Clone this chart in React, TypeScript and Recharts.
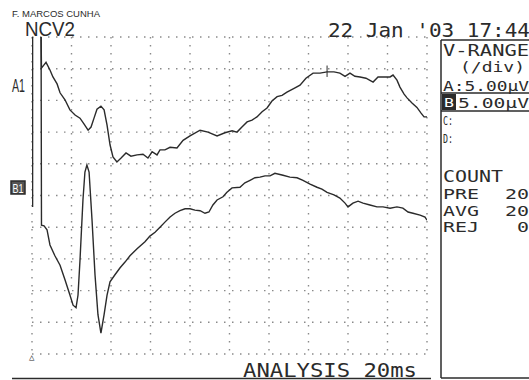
import { LineChart, Line, XAxis, YAxis, CartesianGrid, ReferenceLine } from "recharts";

// time (ms) and amplitude (µV, 5 µV/div)
const timeA = [0.46, 0.48, 0.71, 0.91, 1.06, 1.27, 1.42, 1.67, 1.92, 2.18, 2.43, 2.63, 2.84, 2.99, 3.14, 3.29, 3.49, 3.65, 3.8, 3.95, 4.1, 4.3, 4.51, 4.76, 5.01, 5.32, 5.62, 5.87, 6.08, 6.33, 6.48, 6.73, 6.99, 7.34, 7.65, 8.0, 8.51, 8.91, 9.37, 9.77, 10.13, 10.38, 10.63, 10.89, 11.14, 11.39, 11.65, 11.9, 12.15, 12.41, 12.66, 12.91, 13.27, 13.57, 13.87, 14.23, 14.58, 14.94, 15.29, 15.59, 15.85, 16.1, 16.35, 16.61, 16.91, 17.27, 17.52, 17.87, 18.13, 18.28, 18.48, 18.63, 18.84, 18.99, 19.24, 19.49, 19.7, 19.85, 20.0];
const voltA = [50, 45.1, 46.0, 44.8, 43.7, 42.6, 41.2, 40.1, 38.5, 37.7, 37.2, 36.3, 35.3, 35.8, 37.2, 38.6, 39.1, 38.5, 36.1, 33.0, 31.1, 30.3, 30.9, 31.7, 31.2, 31.4, 31.5, 30.9, 31.9, 31.4, 32.2, 32.2, 32.6, 32.5, 33.7, 34.4, 35.3, 35.0, 34.4, 34.9, 35.2, 35.0, 35.8, 36.6, 36.9, 37.4, 38.2, 38.8, 39.9, 40.6, 40.8, 41.3, 41.9, 42.4, 43.5, 44.3, 44.3, 44.5, 44.5, 44.3, 43.8, 44.3, 43.8, 43.7, 43.5, 42.9, 43.7, 43.7, 43.7, 44.0, 43.2, 42.1, 41.0, 40.4, 39.6, 38.9, 38.0, 37.4, 37.4];

const timeB = [0.46, 0.48, 0.61, 0.76, 0.91, 1.16, 1.42, 1.67, 1.92, 2.08, 2.23, 2.33, 2.43, 2.58, 2.68, 2.78, 2.89, 3.04, 3.19, 3.34, 3.49, 3.65, 3.8, 3.95, 4.2, 4.46, 4.71, 4.96, 5.32, 5.72, 5.97, 6.23, 6.48, 6.73, 6.99, 7.24, 7.49, 7.75, 8.0, 8.25, 8.51, 8.76, 8.96, 9.16, 9.37, 9.67, 9.87, 10.13, 10.53, 10.78, 11.04, 11.29, 11.54, 11.8, 12.05, 12.3, 12.71, 13.06, 13.42, 13.72, 14.08, 14.43, 14.68, 14.94, 15.29, 15.59, 15.85, 16.0, 16.25, 16.51, 16.76, 17.11, 17.47, 17.77, 18.13, 18.48, 18.78, 19.04, 19.29, 19.65, 19.9, 20.0];
const voltB = [50, 20.3, 20.2, 19.6, 17.2, 15.5, 14.0, 11.7, 9.3, 7.7, 7.3, 9.3, 14.8, 24.3, 28.7, 29.8, 28.7, 21.1, 12.5, 6.2, 3.3, 6.2, 9.3, 11.4, 12.5, 13.6, 14.5, 15.5, 16.6, 17.7, 18.6, 19.2, 20.0, 20.8, 21.6, 22.2, 22.6, 22.9, 22.9, 22.7, 22.6, 22.2, 22.4, 23.5, 24.3, 24.8, 25.5, 26.2, 26.3, 27.0, 27.4, 27.8, 27.9, 28.1, 28.1, 28.5, 28.2, 27.9, 27.8, 27.4, 26.8, 26.3, 26.0, 25.5, 25.1, 24.6, 23.8, 23.2, 23.8, 24.1, 23.8, 23.5, 23.2, 23.2, 23.0, 23.2, 23.0, 22.4, 22.2, 21.9, 21.6, 21.1];

// stimulus artifact at t = 0
const timeStim = [0, 0];
const voltStim = [50, 23.2];

const xTicks = [0, 2, 4, 6, 8, 10, 12, 14, 16, 18, 20];
const yTicks = [0, 5, 10, 15, 20, 25, 30, 35, 40, 45, 50];
const cursorIdx = 57; // cursor mark on trace A

const traceA = timeA.map((t, i) => ({ t, v: voltA[i] }));
const traceB = timeB.map((t, i) => ({ t, v: voltB[i] }));
const stim = timeStim.map((t, i) => ({ t, v: voltStim[i] }));

const INK = "#2b2b2b";
const MONO = "'DejaVu Sans Mono', monospace";
const SANS = "'Liberation Sans', Arial, sans-serif";

function T({ x, y, size, len, children, font = MONO, fill = INK }: any) {
  return (
    <text x={x} y={y} fontSize={size} fontFamily={font} fill={fill} textLength={len} lengthAdjust="spacingAndGlyphs">
      {children}
    </text>
  );
}

export default function App() {
  return (
    <div style={{ position: "absolute", left: 0, top: 0, width: 529, height: 380, background: "#fff", overflow: "hidden" }}>
      <LineChart width={529} height={380} margin={{ top: 37, right: 102, bottom: 26, left: 32 }}>
        <CartesianGrid stroke="#8a8a8a" strokeWidth={1.4} strokeDasharray="1.5 6.5" />
        <XAxis type="number" dataKey="t" domain={[0, 20]} ticks={xTicks} hide allowDataOverflow />
        <YAxis type="number" domain={[0, 50]} ticks={yTicks} hide allowDataOverflow />
        <Line data={stim} dataKey="v" stroke={INK} strokeWidth={2.6} dot={false} isAnimationActive={false} />
        <Line data={traceA} dataKey="v" type="linear" stroke={INK} strokeWidth={1.4} dot={false} isAnimationActive={false} />
        <Line data={traceB} dataKey="v" type="linear" stroke={INK} strokeWidth={1.4} dot={false} isAnimationActive={false} />
        <ReferenceLine
          segment={[
            { x: timeA[cursorIdx], y: voltA[cursorIdx] + 1 },
            { x: timeA[cursorIdx], y: voltA[cursorIdx] - 0.8 },
          ]}
          stroke={INK}
          strokeWidth={1}
        />
      </LineChart>
      <svg width={529} height={380} style={{ position: "absolute", left: 0, top: 0, pointerEvents: "none" }}>
        <T x={12} y={17} size={9} len={88} font={SANS}>F. MARCOS CUNHA</T>
        <T x={25} y={36} size={19.5} len={50} font={SANS}>NCV2</T>
        <T x={328} y={37} size={19} len={202}>22 Jan '03 17:44</T>
        <T x={12} y={92} size={19} len={13} font={SANS}>A1</T>
        <rect x={11} y={181} width={14} height={13} fill="#555" stroke={INK} strokeWidth={1.5} />
        <T x={12.5} y={192.5} size={13} len={11} font={SANS} fill="#fff">B1</T>
        <T x={29} y={360} size={9}>△</T>

        <line x1={441} y1={40} x2={441} y2={378} stroke={INK} strokeWidth={1.5} />
        <line x1={441} y1={40} x2={529} y2={40} stroke={INK} strokeWidth={1.5} />
        <line x1={441} y1={93} x2={529} y2={93} stroke={INK} strokeWidth={1.5} />
        <line x1={441} y1={111} x2={529} y2={111} stroke={INK} strokeWidth={1.5} />
        <line x1={441} y1={378} x2={529} y2={378} stroke={INK} strokeWidth={1.5} />
        <line x1={12} y1={378.5} x2={431} y2={378.5} stroke={INK} strokeWidth={1.5} />

        <T x={443} y={56} size={15} len={86}>V-RANGE</T>
        <T x={460} y={72} size={14} len={65}>(/div)</T>
        <T x={443} y={91} size={14} len={86}>A:5.00μV</T>
        <rect x={442} y={94} width={14} height={16} fill={INK} />
        <T x={444} y={107} size={13} len={10} fill="#fff">B</T>
        <T x={458} y={108} size={14} len={71}>5.00μV</T>
        <T x={443} y={125} size={12} len={10}>C:</T>
        <T x={443} y={143} size={12} len={10}>D:</T>

        <T x={443} y={182} size={15} len={60}>COUNT</T>
        <T x={443} y={199} size={14} len={36}>PRE</T>
        <T x={505} y={199} size={14} len={24}>20</T>
        <T x={443} y={215.5} size={14} len={36}>AVG</T>
        <T x={505} y={215.5} size={14} len={24}>20</T>
        <T x={443} y={232} size={14} len={36}>REJ</T>
        <T x={517} y={232} size={14} len={12}>0</T>

        <T x={243} y={377} size={19} len={174}>ANALYSIS  20ms</T>
      </svg>
    </div>
  );
}
